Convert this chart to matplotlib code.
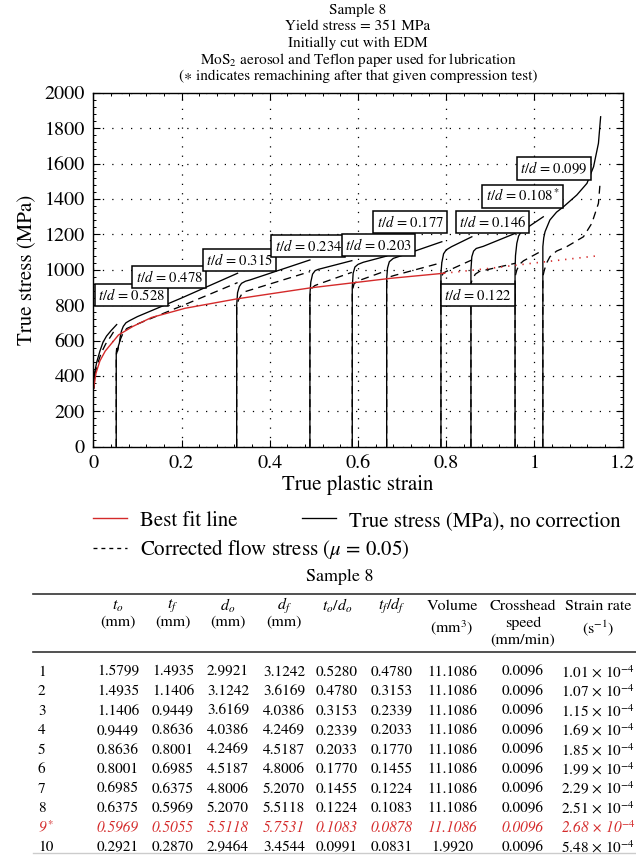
import numpy as np
import matplotlib.pyplot as plt
from matplotlib.lines import Line2D
from matplotlib.ticker import MultipleLocator, FormatStrFormatter

plt.rcParams['font.family'] = ['STIXGeneral', 'DejaVu Serif']
plt.rcParams['mathtext.fontset'] = 'stix'

# ---- data ----
title_lines = ["Sample 8",
               "Yield stress = 351 MPa",
               "Initially cut with EDM",
               "MoS$_2$ aerosol and Teflon paper used for lubrication",
               "(\u2217 indicates remachining after that given compression test)"]

# true stress, no correction (solid) per test
solid_x = [
    [0.001, 0.003, 0.008, 0.015, 0.022, 0.030, 0.040, 0.053],
    [0.052, 0.052, 0.053, 0.055, 0.057, 0.059, 0.061, 0.064, 0.068, 0.074, 0.082, 0.10, 0.2, 0.327],
    [0.325, 0.325, 0.327, 0.331, 0.336, 0.345, 0.355, 0.491],
    [0.491, 0.491, 0.493, 0.497, 0.503, 0.510, 0.586],
    [0.587, 0.587, 0.589, 0.593, 0.600, 0.612, 0.665],
    [0.665, 0.665, 0.667, 0.671, 0.680, 0.703, 0.790],
    [0.788, 0.788, 0.790, 0.794, 0.800, 0.812, 0.858],
    [0.856, 0.856, 0.858, 0.862, 0.868, 0.884, 0.956],
    [0.956, 0.956, 0.957, 0.960, 0.964, 0.970, 0.985, 1.020],
    [1.019, 1.019, 1.021, 1.024, 1.035, 1.050, 1.066, 1.096, 1.119, 1.134, 1.145, 1.150],
]
solid_y = [
    [330, 420, 480, 540, 590, 625, 655, 690],
    [0, 530, 555, 540, 570, 585, 620, 655, 680, 700, 712, 735, 840, 980],
    [0, 800, 870, 905, 923, 935, 942, 1055],
    [0, 860, 930, 975, 995, 1002, 1051],
    [0, 900, 980, 1015, 1030, 1042, 1077],
    [0, 950, 1010, 1045, 1064, 1083, 1158],
    [0, 980, 1040, 1090, 1112, 1130, 1186],
    [0, 1000, 1073, 1105, 1120, 1132, 1205],
    [0, 1000, 1080, 1149, 1190, 1215, 1240, 1299],
    [0, 1130, 1180, 1215, 1281, 1325, 1356, 1422, 1488, 1582, 1714, 1864],
]

# corrected flow stress (dashed)
dash_x = [
    [0.001, 0.004, 0.010, 0.018, 0.028, 0.040, 0.050],
    [0.052, 0.052, 0.055, 0.058, 0.062, 0.068, 0.076, 0.087, 0.2, 0.327],
    [0.325, 0.325, 0.329, 0.336, 0.344, 0.491],
    [0.491, 0.491, 0.495, 0.502, 0.512, 0.586],
    [0.587, 0.587, 0.591, 0.598, 0.665],
    [0.665, 0.665, 0.669, 0.675, 0.683, 0.790],
    [0.788, 0.788, 0.793, 0.800, 0.858],
    [0.856, 0.856, 0.859, 0.866, 0.875, 0.956],
    [0.956, 0.956, 0.960, 0.966, 0.975, 1.020],
    [1.019, 1.019, 1.022, 1.028, 1.035, 1.050, 1.073, 1.111, 1.130, 1.145, 1.149],
]
dash_y = [
    [330, 410, 470, 530, 580, 625, 665],
    [0, 520, 545, 575, 610, 645, 668, 680, 795, 927],
    [0, 790, 829, 860, 876, 989],
    [0, 850, 895, 910, 920, 985],
    [0, 880, 920, 935, 995],
    [0, 930, 950, 962, 968, 1040],
    [0, 950, 980, 990, 1055],
    [0, 920, 945, 975, 990, 1036],
    [0, 960, 998, 1030, 1050, 1111],
    [0, 960, 995, 1040, 1073, 1105, 1130, 1186, 1262, 1375, 1497],
]

# best fit line, fitted range and extrapolation
fit_x = [0.001, 0.006, 0.015, 0.027, 0.057, 0.09, 0.132, 0.208, 0.325, 0.491, 0.673, 0.795]
fit_y = [330, 415, 485, 540, 631, 680, 730, 782, 835, 897, 951, 980]
fit_ext_x = [0.795, 0.9, 1.0, 1.145]
fit_ext_y = [980, 1008, 1038, 1079]

td_labels = ["0.528", "0.478", "0.315", "0.234", "0.203", "0.177", "0.146", "0.122", "0.108$^*$", "0.099"]
td_x = [0.087, 0.172, 0.332, 0.487, 0.647, 0.718, 0.905, 0.872, 0.973, 1.044]
td_y = [857, 959, 1055, 1134, 1141, 1269, 1269, 858, 1416, 1573]

legend_labels = ["Best fit line", "True stress (MPa), no correction",
                 "Corrected flow stress ($\\mu$ = 0.05)"]

# table
table_title = "Sample 8"
col_head1 = ["$t_o$", "$t_f$", "$d_o$", "$d_f$", "$t_o/d_o$", "$t_f/d_f$", "Volume", "Crosshead", "Strain rate"]
col_head2 = ["(mm)", "(mm)", "(mm)", "(mm)", "", "", "(mm$^3$)", "speed", "(s$^{-1}$)"]
col_head3 = ["", "", "", "", "", "", "", "(mm/min)", ""]
row_names = ["1", "2", "3", "4", "5", "6", "7", "8", "9$^*$", "10"]
t_o = ["1.5799", "1.4935", "1.1406", "0.9449", "0.8636", "0.8001", "0.6985", "0.6375", "0.5969", "0.2921"]
t_f = ["1.4935", "1.1406", "0.9449", "0.8636", "0.8001", "0.6985", "0.6375", "0.5969", "0.5055", "0.2870"]
d_o = ["2.9921", "3.1242", "3.6169", "4.0386", "4.2469", "4.5187", "4.8006", "5.2070", "5.5118", "2.9464"]
d_f = ["3.1242", "3.6169", "4.0386", "4.2469", "4.5187", "4.8006", "5.2070", "5.5118", "5.7531", "3.4544"]
to_do = ["0.5280", "0.4780", "0.3153", "0.2339", "0.2033", "0.1770", "0.1455", "0.1224", "0.1083", "0.0991"]
tf_df = ["0.4780", "0.3153", "0.2339", "0.2033", "0.1770", "0.1455", "0.1224", "0.1083", "0.0878", "0.0831"]
volume = ["11.1086"] * 9 + ["1.9920"]
speed = ["0.0096"] * 10
rate = ["1.01", "1.07", "1.15", "1.69", "1.85", "1.99", "2.29", "2.51", "2.68", "5.48"]
highlight_row = 8

# ---- figure ----
W, H = 636, 857
fig = plt.figure(figsize=(W / 100, H / 100), dpi=100)

def fx(px):
    return px / W

def fy(py):
    return 1 - py / H

red = '#d42a2a'
ax = fig.add_axes([fx(93.3), fy(446.7), fx(622.7 - 93.3), (446.7 - 92.7) / H])

for xs, ys in zip(solid_x, solid_y):
    ax.plot(xs, ys, color='black', lw=0.95)
for xs, ys in zip(dash_x, dash_y):
    ax.plot(xs, ys, color='black', lw=0.95, ls=(0, (6, 4)))
ax.plot(fit_x, fit_y, color=red, lw=1.0)
ax.plot(fit_ext_x, fit_ext_y, color=red, lw=1.2, ls=(0, (0.8, 3.5)))

for lab, x, y in zip(td_labels, td_x, td_y):
    ax.text(x, y, "$t/d$ = " + lab, ha='center', va='center', fontsize=10.5,
            bbox=dict(boxstyle='square,pad=0.22', fc='white', ec='black', lw=1.1))

ax.set_xlim(0, 1.2)
ax.set_ylim(0, 2000)
ax.xaxis.set_major_locator(MultipleLocator(0.2))
ax.xaxis.set_minor_locator(MultipleLocator(0.04))
ax.yaxis.set_major_locator(MultipleLocator(200))
ax.yaxis.set_minor_locator(MultipleLocator(40))
ax.xaxis.set_major_formatter(FormatStrFormatter('%g'))
ax.tick_params(which='both', direction='in', top=True, right=True, labelsize=14.5)
ax.tick_params(which='major', length=5, width=0.8, pad=6)
ax.tick_params(which='minor', length=2.5, width=0.7)
ax.grid(True, which='major', color='black', lw=0.9, ls=(0, (1, 6.5)))
for s in ax.spines.values():
    s.set_linewidth(1.0)
ax.set_xlabel("True plastic strain", fontsize=15, labelpad=2)
ax.set_ylabel("True stress (MPa)", fontsize=15, labelpad=5)

for i, line in enumerate(title_lines):
    fig.text(fx(358), fy(10 + 16.6 * i), line, ha='center', va='center', fontsize=11)

# legend: two pieces, placed like the original
h_red = Line2D([], [], color=red, lw=1.0)
h_solid = Line2D([], [], color='black', lw=0.95)
h_dash = Line2D([], [], color='black', lw=0.95, ls=(0, (3, 3)))
fig.legend([h_red, h_dash], [legend_labels[0], legend_labels[2]], loc='upper left',
           bbox_to_anchor=(fx(93), fy(511)), frameon=False, fontsize=15,
           handlelength=1.65, handletextpad=0.6, labelspacing=0.3,
           borderpad=0, borderaxespad=0)
fig.legend([h_solid], [legend_labels[1]], loc='upper left',
           bbox_to_anchor=(fx(302), fy(511)), frameon=False, fontsize=15,
           handlelength=1.65, handletextpad=0.6, borderpad=0, borderaxespad=0)

# table
fig.text(fx(340), fy(577), table_title, ha='center', va='center', fontsize=13)
fig.add_artist(Line2D([fx(33), fx(636)], [fy(594), fy(594)], color='#333333', lw=1.2))
fig.add_artist(Line2D([fx(33), fx(636)], [fy(652), fy(652)], color='#333333', lw=1.2))
fig.add_artist(Line2D([fx(33), fx(636)], [fy(853), fy(853)], color='#cccccc', lw=1.0))

col_x = [118, 173, 228, 284, 337, 392, 452, 523, 598]
for cx, h1, h2, h3 in zip(col_x, col_head1, col_head2, col_head3):
    fig.text(fx(cx), fy(606), h1, ha='center', va='center', fontsize=11.5)
    if h3:
        fig.text(fx(cx), fy(623), h2, ha='center', va='center', fontsize=11.5)
        fig.text(fx(cx), fy(640), h3, ha='center', va='center', fontsize=11.5)
    elif h2:
        yy = 622 if h2 == "(mm)" else 628
        fig.text(fx(cx), fy(yy), h2, ha='center', va='center', fontsize=11.5)

columns = [t_o, t_f, d_o, d_f, to_do, tf_df, volume, speed]
for r in range(len(row_names)):
    yy = fy(672 + 19.5 * r)
    hl = r == highlight_row
    kw = dict(va='center', fontsize=11, color=red if hl else 'black',
              style='italic' if hl else 'normal')
    fig.text(fx(38), yy, row_names[r], ha='left', **kw)
    for cx, col in zip(col_x[:8], columns):
        fig.text(fx(cx), yy, col[r], ha='center', **kw)
    fig.text(fx(col_x[8]), yy, rate[r] + " \u00d7 10$^{-4}$", ha='center', **kw)

fig.savefig("out.png", dpi=100)
